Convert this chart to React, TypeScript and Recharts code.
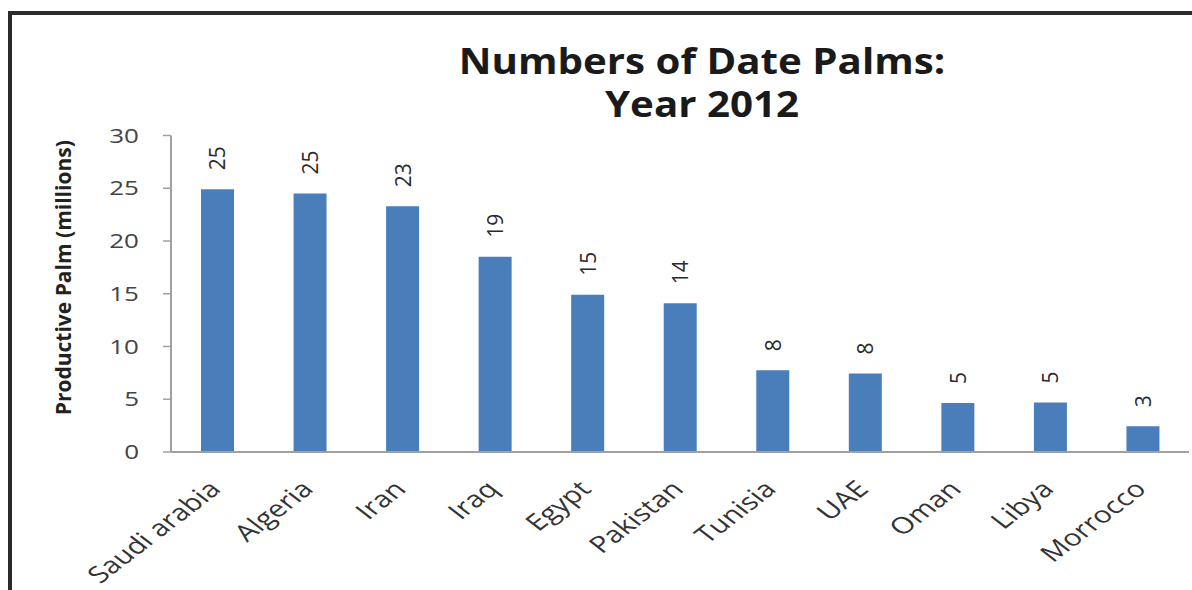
import { BarChart, Bar, XAxis, YAxis, LabelList } from 'recharts';

// Date palm counts by country, 2012 (millions)
const countries = ['Saudi arabia', 'Algeria', 'Iran', 'Iraq', 'Egypt', 'Pakistan', 'Tunisia', 'UAE', 'Oman', 'Libya', 'Morrocco'];
const palms = [24.9, 24.5, 23.3, 18.5, 14.9, 14.1, 7.75, 7.45, 4.65, 4.7, 2.45];
const palmLabels = ['25', '25', '23', '19', '15', '14', '8', '8', '5', '5', '3'];
const yTicks = [0, 5, 10, 15, 20, 25, 30];

const rows = countries.map((country, i) => ({ country, palms: palms[i], label: palmLabels[i] }));

const FONT = "'Open Sans', sans-serif";
const BAR_COLOR = '#4A7EBB';
// the source image is stretched sideways, so text is widened a bit
const STRETCH = 1.3;

const CountryTick = ({ x, y, payload }: any) => (
  <g transform={`translate(${x - 10},${y + 19}) scale(${STRETCH},1) rotate(-45)`}>
    <text x={0} y={0} dy="0.71em" textAnchor="end" fontSize={23} fontFamily={FONT} fill="#333">
      {payload.value}
    </text>
  </g>
);

const NumberTick = ({ x, y, payload }: any) => (
  <g transform={`translate(${x},${y}) scale(${STRETCH},1)`}>
    <text x={0} y={0} dy="0.36em" textAnchor="end" fontSize={20} fontFamily={FONT} fill="#444">
      {payload.value}
    </text>
  </g>
);

const ValueLabel = ({ x, y, width, value }: any) => {
  const cx = x + width / 2;
  const cy = y - 19;
  return (
    <text
      x={cx}
      y={cy}
      transform={`rotate(-90 ${cx} ${cy})`}
      textAnchor="start"
      dominantBaseline="central"
      fontSize={21}
      fontFamily={FONT}
      fill="#2a2a2a"
    >
      {value}
    </text>
  );
};

const YTitle = ({ viewBox }: any) => {
  const cx = 55;
  const cy = viewBox.y + viewBox.height / 2 - 16;
  return (
    <text
      x={cx}
      y={cy}
      transform={`rotate(-90 ${cx} ${cy})`}
      textAnchor="middle"
      dominantBaseline="central"
      fontSize={21}
      fontWeight={700}
      fontFamily={FONT}
      fill="#222"
    >
      Productive Palm (millions)
    </text>
  );
};

export default function App() {
  return (
    // fixed so the full-height chart does not push the page into scrolling
    <div style={{ position: 'fixed', left: 8, top: 8, width: 1184, height: 582, overflow: 'hidden', background: '#fff' }}>
      {/* frame of the original screenshot, only top and left are visible */}
      <div
        style={{
          position: 'absolute',
          left: 0,
          top: 3,
          width: 1300,
          height: 700,
          borderTop: '4px solid #2b2b2b',
          borderLeft: '4px solid #2b2b2b',
        }}
      />
      <div
        style={{
          position: 'absolute',
          left: 394,
          top: 31,
          width: 600,
          textAlign: 'center',
          fontFamily: FONT,
          fontWeight: 700,
          fontSize: 35,
          lineHeight: '43px',
          color: '#1a1a1a',
          transform: 'scaleX(1.15)',
        }}
      >
        Numbers of Date Palms:
        <br />
        Year 2012
      </div>
      <BarChart
        width={1184}
        height={582}
        data={rows}
        margin={{ top: 127.5, right: 3, bottom: 8, left: 0 }}
        style={{ position: 'absolute', left: 0, top: 0 }}
      >
        <XAxis
          dataKey="country"
          interval={0}
          height={130}
          tickLine={false}
          axisLine={{ stroke: '#a0a0a0', strokeWidth: 2 }}
          tick={<CountryTick />}
        />
        <YAxis
          domain={[0, 30]}
          ticks={yTicks}
          width={163}
          tickSize={8}
          tickMargin={24}
          axisLine={{ stroke: '#a0a0a0', strokeWidth: 2 }}
          tickLine={{ stroke: '#a0a0a0', strokeWidth: 1.5 }}
          tick={<NumberTick />}
          label={<YTitle />}
        />
        <Bar dataKey="palms" fill={BAR_COLOR} barSize={33} isAnimationActive={false}>
          <LabelList dataKey="label" content={<ValueLabel />} />
        </Bar>
      </BarChart>
    </div>
  );
}
